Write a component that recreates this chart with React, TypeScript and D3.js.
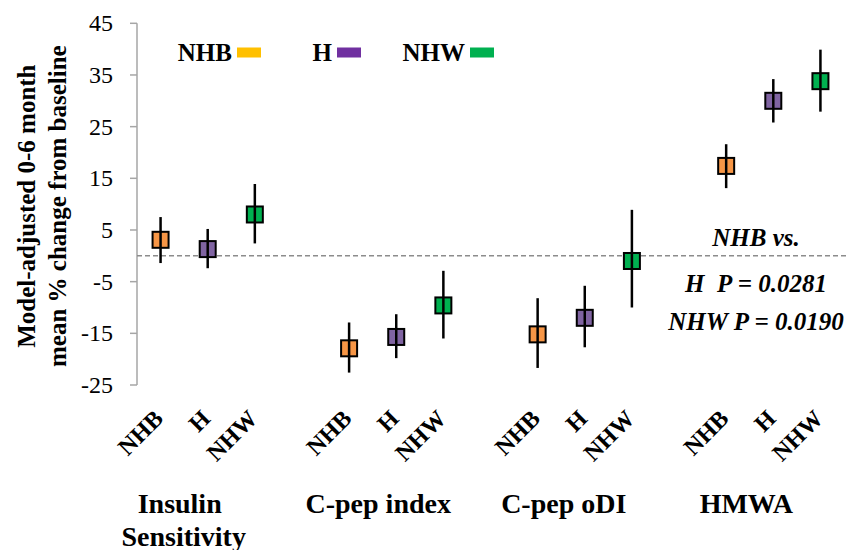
import React from 'react';
import * as d3 from 'd3';

const groups = ['Insulin Sensitivity', 'C-pep index', 'C-pep oDI', 'HMWA'];
const races = ['NHB', 'H', 'NHW'];

// mean % change, and the ends of each error bar, per race across the groups
const meanNHB = [3.1, -17.9, -15.2, 17.4];
const meanH = [1.3, -15.7, -12.0, 30.0];
const meanNHW = [8.0, -9.6, -1.0, 33.8];
const upperNHB = [7.5, -12.9, -8.2, 21.6];
const upperH = [5.2, -11.3, -5.8, 34.2];
const upperNHW = [13.9, -2.9, 8.9, 39.9];
const lowerNHB = [-1.4, -22.6, -21.7, 13.1];
const lowerH = [-2.4, -19.8, -17.7, 25.8];
const lowerNHW = [2.4, -16.0, -10.0, 27.9];

const yTicks = [45, 35, 25, 15, 5, -5, -15, -25];
const annotation = ['NHB vs.', 'H\u00a0\u00a0P = 0.0281', 'NHW P = 0.0190'];

const markerFill = { NHB: '#F79646', H: '#8064A2', NHW: '#00B050' };
const legendFill = { NHB: '#FFC000', H: '#7030A0', NHW: '#00B050' };

const means = { NHB: meanNHB, H: meanH, NHW: meanNHW };
const uppers = { NHB: upperNHB, H: upperH, NHW: upperNHW };
const lowers = { NHB: lowerNHB, H: lowerH, NHW: lowerNHW };

const FONT = '"Liberation Serif", "Times New Roman", serif';

export default function App() {
  const width = 851;
  const height = 550;
  const axisX = 137;

  // 15 slots: 3 races per group with an empty slot between groups
  const slots: string[] = [];
  groups.forEach((g, gi) => {
    races.forEach(r => slots.push(`${g}|${r}`));
    if (gi < groups.length - 1) slots.push(`gap${gi}`);
  });

  const x = d3.scaleBand().domain(slots).range([axisX, 844]).padding(0);
  const cx = (k: string) => (x(k) as number) + x.bandwidth() / 2;
  const y = d3.scaleLinear().domain([-25, 45]).range([385, 23.3]);

  const points = groups.flatMap((g, gi) =>
    races.map(r => ({
      key: `${g}|${r}`,
      race: r,
      mean: means[r][gi],
      hi: uppers[r][gi],
      lo: lowers[r][gi],
    }))
  );

  const labelNudge = [-28, -18, -21, -27];
  const legendItems = [
    { race: 'NHB', textEnd: 232 },
    { race: 'H', textEnd: 332 },
    { race: 'NHW', textEnd: 465 },
  ];

  return (
    <svg width={width} height={height} style={{ position: 'absolute', left: 0, top: 0, background: '#fff' }}
      fontFamily={FONT}>
      {/* y axis */}
      <line x1={axisX} x2={axisX} y1={y(45)} y2={y(-25)} stroke="#a6a6a6" strokeWidth={1.5} />
      {yTicks.map(t => (
        <g key={t}>
          <line x1={axisX - 7} x2={axisX} y1={y(t)} y2={y(t)} stroke="#a6a6a6" strokeWidth={1.5} />
          <text x={113} y={y(t)} dy="0.34em" textAnchor="end" fontSize={24}>{t}</text>
        </g>
      ))}

      {/* zero reference */}
      <line x1={axisX} x2={846} y1={y(0)} y2={y(0)} stroke="#8c8c8c" strokeWidth={1.5} strokeDasharray="5,3" />

      {/* y label */}
      <text transform={`translate(35,${(y(45) + y(-25)) / 2 + 2}) rotate(-90)`} textAnchor="middle"
        fontSize={25} fontWeight="bold">
        <tspan x={0} dy={0}>Model-adjusted 0-6 month</tspan>
        <tspan x={0} dy={31}>mean % change from baseline</tspan>
      </text>

      {/* markers and error bars */}
      {points.map(p => (
        <g key={p.key}>
          <rect x={cx(p.key) - 8} y={y(p.mean) - 8} width={16} height={16}
            fill={markerFill[p.race]} stroke="#000" strokeWidth={2} />
          <line x1={cx(p.key)} x2={cx(p.key)} y1={y(p.hi)} y2={y(p.lo)} stroke="#000" strokeWidth={2.5} />
        </g>
      ))}

      {/* category labels */}
      {points.map(p => (
        <text key={'l' + p.key} transform={`translate(${cx(p.key) + 4},420) rotate(-45)`}
          textAnchor="end" fontSize={24} fontWeight="bold">{p.race}</text>
      ))}

      {/* group labels */}
      {groups.map((g, gi) => {
        const mid = cx(`${g}|H`) + labelNudge[gi];
        const words = g === 'Insulin Sensitivity' ? ['Insulin', 'Sensitivity'] : [g];
        return (
          <text key={g} textAnchor="middle" fontSize={28} fontWeight="bold">
            {words.map((w, i) => (
              <tspan key={w} x={mid + (i === 1 ? 4 : 0)} y={513 + i * 33}>{w}</tspan>
            ))}
          </text>
        );
      })}

      {/* legend */}
      {legendItems.map(l => (
        <g key={l.race}>
          <text x={l.textEnd} y={61} textAnchor="end" fontSize={25} fontWeight="bold">{l.race}</text>
          <rect x={l.textEnd + 5} y={47.5} width={24} height={10} fill={legendFill[l.race]} />
        </g>
      ))}

      {/* p-value annotation */}
      {annotation.map((a, i) => (
        <text key={a} x={756} y={[246, 292, 330][i]} textAnchor="middle" fontSize={25}
          fontWeight="bold" fontStyle="italic">{a}</text>
      ))}
    </svg>
  );
}
